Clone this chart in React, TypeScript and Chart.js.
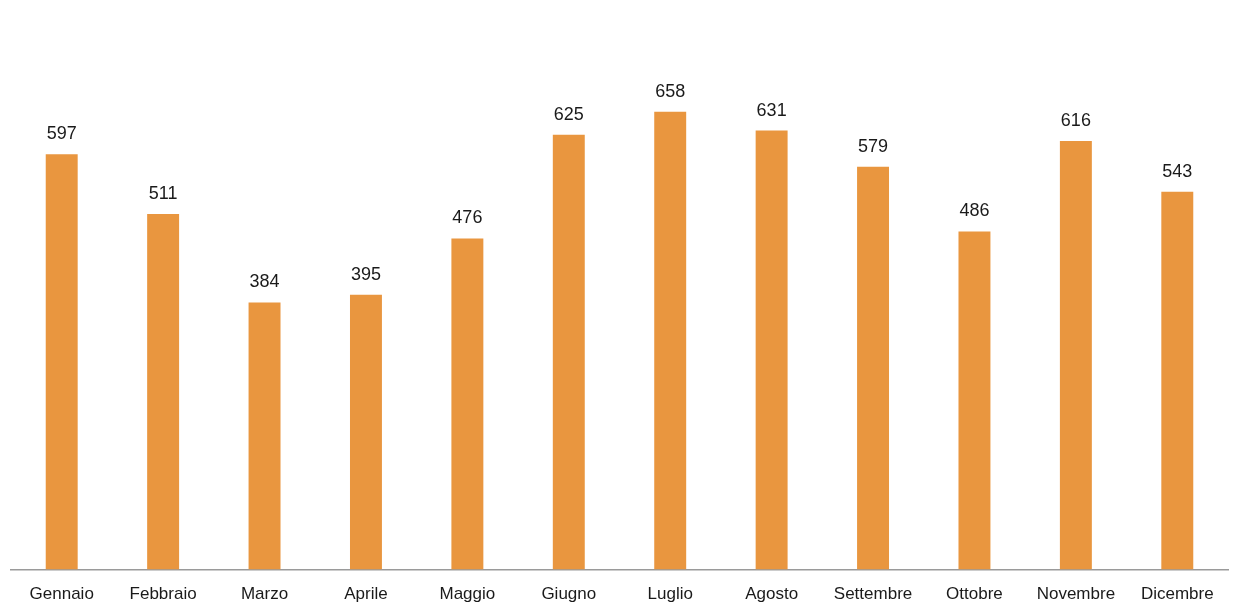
import React, { useEffect, useRef } from "react";
import { Chart, registerables } from "chart.js";

Chart.register(...registerables);

const months = [
  "Gennaio", "Febbraio", "Marzo", "Aprile", "Maggio", "Giugno",
  "Luglio", "Agosto", "Settembre", "Ottobre", "Novembre", "Dicembre",
];
const values = [597, 511, 384, 395, 476, 625, 658, 631, 579, 486, 616, 543];

const FONT = "'Liberation Sans', Arial, sans-serif";

const labelPlugin = {
  id: "barLabels",
  afterDatasetsDraw(chart: any) {
    const ctx = chart.ctx;
    const meta = chart.getDatasetMeta(0);
    ctx.save();
    ctx.fillStyle = "#1a1a1a";
    ctx.font = `18px ${FONT}`;
    ctx.textAlign = "center";
    ctx.textBaseline = "bottom";
    meta.data.forEach((bar: any, i: number) => {
      ctx.fillText(String(values[i]), bar.x, bar.y - 11);
    });
    ctx.restore();
  },
};

export default function App() {
  const ref = useRef<HTMLCanvasElement>(null);
  useEffect(() => {
    const chart = new Chart(ref.current!, {
      type: "bar",
      data: {
        labels: months,
        datasets: [
          {
            data: values,
            backgroundColor: "#E9963F",
            barPercentage: 0.63,
            categoryPercentage: 0.5,
          },
        ],
      },
      options: {
        animation: false,
        responsive: false,
        maintainAspectRatio: false,
        layout: { padding: { left: 11, right: 6, top: 13, bottom: -5 } },
        plugins: { legend: { display: false }, tooltip: { enabled: false } },
        scales: {
          x: {
            grid: { display: false, drawTicks: false },
            border: { display: true, color: "#9a9a9a", width: 1.5 },
            ticks: {
              color: "#1a1a1a",
              font: { family: FONT, size: 17 },
              padding: 15,
              maxRotation: 0,
              autoSkip: false,
            },
          },
          y: {
            display: false,
            min: 0,
            max: 800,
          },
        },
      },
      plugins: [labelPlugin],
    });
    return () => chart.destroy();
  }, []);
  return (
    <div style={{ position: "fixed", left: 0, top: 0, width: 1234, height: 615, background: "#fff" }}>
      <canvas ref={ref} width={1234} height={615} />
    </div>
  );
}
